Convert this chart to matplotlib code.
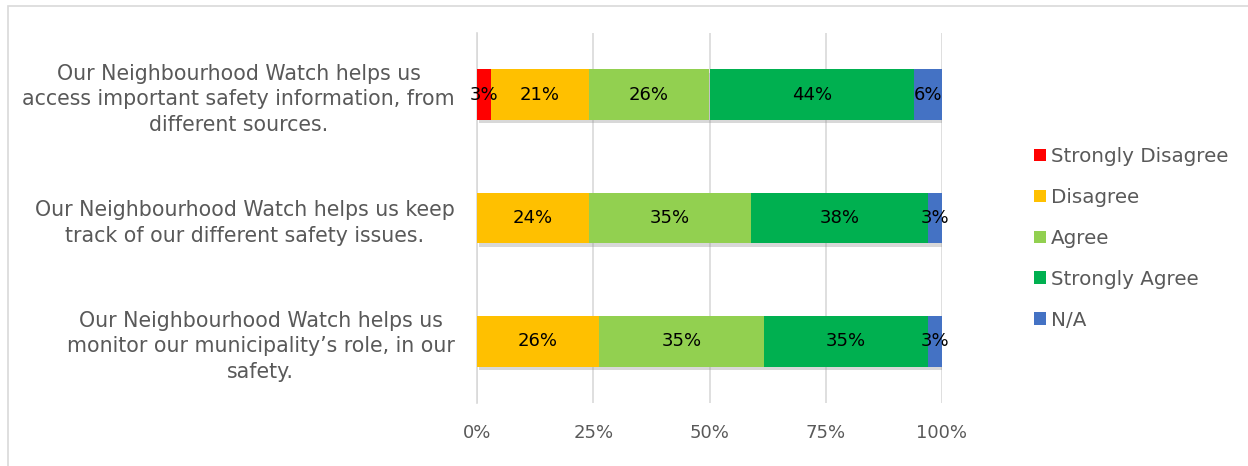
import numpy as np
import matplotlib.pyplot as plt
import matplotlib.patheffects as pe
from matplotlib.patches import Rectangle, Patch

plt.rc("font", family="DejaVu Sans")

statements = [
    "Our Neighbourhood Watch helps us\naccess important safety information, from\ndifferent sources.",
    "Our Neighbourhood Watch helps us keep\ntrack of our different safety issues.",
    "Our Neighbourhood Watch helps us\nmonitor our municipality\u2019s role, in our\nsafety.",
]
responses = ["Strongly Disagree", "Disagree", "Agree", "Strongly Agree", "N/A"]
colors = ["#FF0000", "#FFC000", "#92D050", "#00B050", "#4472C4"]

# percentages per response, one entry per statement
strongly_disagree = [3, 0, 0]
disagree = [21, 24, 26]
agree = [26, 35, 35]
strongly_agree = [44, 38, 35]
not_applicable = [6, 3, 3]

values = np.array([strongly_disagree, disagree, agree, strongly_agree, not_applicable], dtype=float)
totals = values.sum(axis=0)
shares = values / totals  # 100% stacked

grey = "#595959"

fig = plt.figure(figsize=(12.48, 4.66), dpi=100)
fig.patches.append(Rectangle((8 / 1248, -0.1), 1.2, 1.1 - 6 / 466, transform=fig.transFigure,
                             fill=False, edgecolor="#D9D9D9", lw=1.2))
ax = fig.add_axes([477 / 1248, 1 - 403 / 466, (942 - 477) / 1248, (403 - 33) / 466])

y = np.arange(len(statements))
left = np.zeros(len(statements))
shadow = [pe.SimplePatchShadow(offset=(1.5, -2.5), shadow_rgbFace="#909090", alpha=0.35), pe.Normal()]
for i, name in enumerate(responses):
    bars = ax.barh(y, shares[i], left=left, height=0.41, color=colors[i], zorder=3)
    for b in bars:
        b.set_path_effects(shadow)
    for j in range(len(statements)):
        if values[i, j] > 0:
            ax.text(left[j] + shares[i, j] / 2, y[j], f"{values[i, j]:.0f}%", ha="center", va="center",
                    fontsize=13, color="black", zorder=5)
    left += shares[i]

ax.set_xlim(0, 1)
ax.set_ylim(2.5, -0.5)
ax.set_xticks([0, 0.25, 0.5, 0.75, 1.0])
ax.set_xticklabels(["0%", "25%", "50%", "75%", "100%"])
ax.set_yticks(y)
ax.set_yticklabels(statements, ma="center", linespacing=1.35)
ax.tick_params(axis="x", length=0, pad=15, colors=grey, labelsize=13)
ax.tick_params(axis="y", length=0, pad=16, colors=grey, labelsize=14.8)
ax.xaxis.grid(True, color="#D9D9D9", lw=1.2, zorder=0)
for s in ["top", "right", "bottom"]:
    ax.spines[s].set_visible(False)
ax.spines["left"].set_color("#D9D9D9")
ax.spines["left"].set_linewidth(1.2)

handles = [Patch(facecolor=c, label=n) for c, n in zip(colors, responses)]
ax.legend(handles=handles, loc="center left", bbox_to_anchor=(1.18, 0.445), frameon=False, fontsize=14.3,
          handlelength=0.6, handleheight=0.6, handletextpad=0.25, labelspacing=1.1,
          labelcolor=grey, borderaxespad=0)

fig.savefig("out.png", dpi=100)
